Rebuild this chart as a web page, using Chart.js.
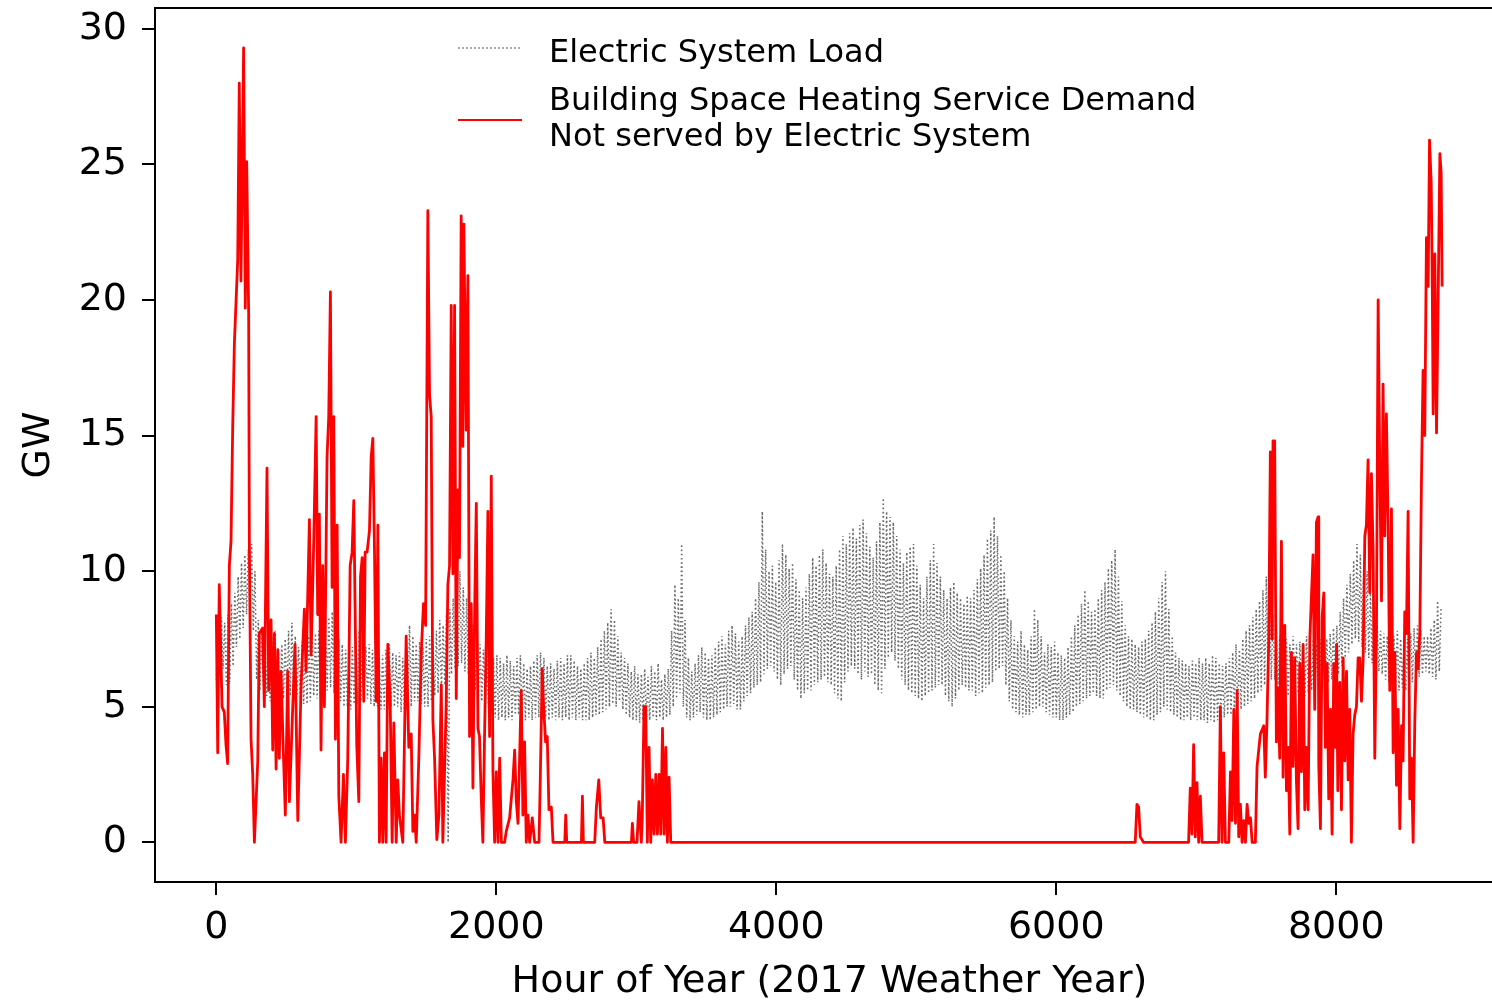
<!DOCTYPE html>
<html>
<head>
<meta charset="utf-8">
<script src="https://cdn.jsdelivr.net/npm/chart.js@4.4.1/dist/chart.umd.min.js"></script>
<style>
  html, body { margin: 0; padding: 0; background: #fff; overflow: hidden; }
  #wrap { position: relative; width: 1492px; height: 1004px; overflow: hidden; }
  #chart { position: absolute; left: 0; top: 0; }
  .lg { position: absolute; font-family: "DejaVu Sans"; font-size: 32px; line-height: 36px; color: #000; white-space: nowrap; }
  .hd { position: absolute; height: 0; }
</style>
</head>
<body>
<div id="wrap">
  <canvas id="chart" width="1510" height="1004"></canvas>
  <div class="hd" style="left:458px; top:47px; width:62px; border-top:2px dotted #aaa;"></div>
  <div class="lg" style="left:549px; top:33px;">Electric System Load</div>
  <div class="hd" style="left:458px; top:119px; width:64px; border-top:2px solid #ff0000;"></div>
  <div class="lg" style="left:549px; top:81px;">Building Space Heating Service Demand<br>Not served by Electric System</div>
</div>
<script>
// Electric system load, one value every 12 hours (night low, day high)
const loadStep = 12;
const loadGW = [
  6.0, 8.0, 6.2, 8.3, 6.4, 8.1,   5.8, 8.4, 5.9, 8.8, 6.5, 9.2,
  7.2, 9.8, 7.5, 10.3, 7.9, 10.6, 8.4, 10.8, 8.6, 11.0, 7.8, 10.0,
  6.0, 8.2, 5.6, 7.9, 5.8, 7.6,   5.4, 7.4, 5.2, 7.6, 5.5, 7.8,
  5.1, 7.0, 5.0, 7.3, 5.3, 7.5,   5.2, 7.8, 5.4, 8.1, 5.2, 7.6,
  5.4, 7.2, 5.3, 7.4, 5.1, 7.0,   5.1, 7.6, 5.2, 7.9, 5.4, 7.7,
  5.3, 7.8, 5.3, 8.0, 5.5, 8.2,   5.6, 8.3, 5.7, 8.5, 5.5, 8.0,
  5.4, 7.5, 5.2, 7.3, 5.0, 7.1,   5.0, 7.0, 4.9, 7.2, 5.1, 7.4,
  5.1, 7.8, 5.2, 7.5, 5.3, 7.2,   5.3, 7.3, 5.1, 7.1, 5.0, 6.9,
  5.0, 6.8, 4.9, 6.9, 4.9, 7.1,   4.9, 7.3, 5.0, 7.0, 5.0, 6.9,
  5.0, 7.0, 4.8, 6.8, 4.8, 7.4,   4.8, 8.0, 5.0, 7.6, 5.2, 7.3,
  5.2, 7.4, 5.1, 7.2, 5.0, 7.5,   5.0, 7.6, 5.2, 7.3, 5.4, 7.8,
  5.5, 8.2, 5.6, 8.0, 5.8, 8.4,   0.0, 8.6, 6.2, 9.0, 6.4, 9.6,
  6.5, 10.0, 6.6, 9.4, 6.3, 9.0,  6.2, 8.5, 5.8, 8.0, 5.6, 7.7,
  5.4, 7.3, 5.2, 7.1, 5.1, 7.0,   5.0, 6.9, 4.8, 6.8, 4.6, 6.9,
  4.5, 6.8, 4.6, 6.6, 4.5, 6.9,   4.6, 6.7, 4.5, 6.5, 4.7, 6.8,
  4.7, 6.9, 4.6, 6.6, 4.5, 6.4,   4.6, 6.5, 4.5, 6.7, 4.6, 6.9,
  4.6, 7.0, 4.5, 6.8, 4.6, 6.5,   4.5, 6.6, 4.6, 6.4, 4.5, 6.7,
  4.6, 6.8, 4.5, 6.6, 4.6, 6.9,   4.5, 6.9, 4.6, 6.7, 4.5, 6.5,
  4.6, 6.4, 4.5, 6.6, 4.5, 6.8,   4.5, 7.0, 4.6, 6.8, 4.7, 7.2,
  4.7, 7.5, 4.8, 7.8, 4.9, 8.1,   5.0, 8.6, 5.1, 8.2, 5.0, 7.6,
  5.2, 7.0, 4.9, 6.8, 4.7, 6.6,   4.6, 6.3, 4.5, 6.5, 4.5, 6.2,
  4.4, 6.2, 4.5, 6.4, 4.6, 6.1,   4.5, 6.5, 4.6, 6.3, 4.5, 6.6,
  4.6, 6.0, 4.5, 6.2, 4.6, 6.4,   4.7, 7.8, 5.0, 9.5, 5.3, 9.0,
  5.5, 11.0, 5.0, 8.2, 4.6, 6.8,  4.5, 6.3, 4.6, 6.6, 4.7, 6.9,
  4.8, 7.2, 4.6, 7.0, 4.5, 6.8,   4.5, 6.9, 4.6, 7.2, 4.7, 7.4,
  4.8, 7.6, 4.9, 7.3, 5.0, 7.8,   5.0, 8.0, 5.1, 7.7, 4.9, 7.4,
  4.9, 7.6, 5.2, 8.0, 5.4, 8.3,   5.5, 8.5, 5.7, 9.0, 5.8, 9.6,
  5.9, 12.2, 6.2, 10.8, 6.4, 10.0, 6.5, 10.2, 6.3, 9.6, 6.0, 10.4,
  5.8, 11.0, 6.2, 10.6, 6.4, 10.1, 6.5, 10.3, 6.0, 9.7, 5.6, 9.3,
  5.3, 9.0, 5.5, 9.4, 5.6, 9.9,   5.6, 10.5, 5.8, 10.2, 5.9, 10.6,
  6.0, 10.8, 6.1, 10.3, 5.9, 9.9, 5.8, 9.8, 5.5, 10.2, 5.3, 10.8,
  5.2, 11.3, 5.9, 11.0, 6.3, 11.4, 6.5, 11.6, 6.4, 11.2, 6.2, 11.7,
  6.0, 11.9, 6.3, 11.4, 6.1, 10.9, 6.2, 10.5, 5.8, 11.1, 5.6, 11.8,
  5.5, 12.7, 6.4, 12.2, 6.8, 12.0, 7.0, 11.8, 6.7, 11.3, 6.4, 10.8,
  6.0, 10.3, 5.8, 10.7, 5.6, 10.9, 5.5, 11.0, 5.4, 10.2, 5.3, 9.5,
  5.2, 9.0, 5.4, 9.8, 5.5, 10.4,  5.6, 11.0, 5.7, 10.3, 5.8, 9.8,
  5.8, 9.3, 5.4, 9.0, 5.2, 9.4,   5.0, 9.6, 5.3, 9.2, 5.6, 9.0,
  5.8, 8.8, 5.7, 9.1, 5.6, 9.0,   5.6, 9.3, 5.4, 9.7, 5.5, 10.1,
  5.5, 10.6, 5.7, 11.2, 5.8, 11.5, 5.9, 12.0, 6.3, 11.3, 6.4, 10.6,
  6.5, 10.0, 5.8, 9.0, 5.2, 8.2,  4.9, 7.6, 4.8, 7.4, 4.7, 7.8,
  4.6, 7.3, 4.7, 7.1, 4.7, 7.6,   4.8, 8.6, 4.9, 8.2, 5.0, 7.6,
  5.0, 7.0, 4.8, 7.3, 4.7, 7.2,   4.6, 7.4, 4.6, 7.0, 4.5, 6.9,
  4.5, 6.8, 4.6, 7.2, 4.7, 7.6,   4.8, 8.0, 5.0, 8.4, 5.1, 8.8,
  5.2, 9.3, 5.3, 8.9, 5.4, 8.5,   5.5, 8.6, 5.4, 9.0, 5.3, 9.3,
  5.3, 9.6, 5.6, 10.1, 5.7, 10.4, 5.8, 10.8, 5.6, 9.8, 5.4, 8.9,
  5.2, 8.0, 5.0, 7.6, 4.9, 7.5,   4.9, 7.3, 4.8, 7.2, 4.7, 7.4,
  4.6, 7.5, 4.6, 7.8, 4.5, 8.1,   4.5, 8.5, 4.7, 9.0, 4.8, 9.6,
  5.0, 10.0, 4.9, 8.6, 4.8, 7.6,  4.7, 7.0, 4.6, 6.8, 4.5, 6.7,
  4.5, 6.6, 4.6, 6.5, 4.5, 6.7,   4.6, 6.6, 4.5, 6.8, 4.5, 6.6,
  4.5, 6.8, 4.4, 6.6, 4.5, 6.9,   4.4, 6.8, 4.5, 6.6, 4.5, 6.5,
  4.6, 6.6, 4.7, 6.8, 4.7, 7.0,   4.8, 7.3, 4.9, 7.1, 4.9, 7.5,
  5.0, 7.8, 5.1, 8.0, 5.2, 8.3,   5.3, 8.6, 5.5, 8.9, 5.6, 9.3,
  5.8, 9.8, 5.9, 9.0, 6.0, 8.4,   6.0, 7.8, 5.8, 7.6, 5.6, 7.5,
  5.5, 7.5, 5.4, 7.3, 5.5, 7.6,   5.6, 7.3, 5.5, 7.4, 5.4, 7.2,
  5.4, 7.6, 5.5, 7.3, 5.6, 7.5,   5.7, 7.3, 5.6, 7.5, 5.7, 7.6,
  5.8, 7.5, 5.9, 7.7, 6.0, 7.9,   6.0, 8.0, 6.2, 8.5, 6.5, 9.0,
  6.8, 9.5, 7.0, 9.9, 7.3, 10.4,  7.5, 11.0, 7.4, 10.6, 7.2, 10.2,
  7.0, 10.0, 6.8, 9.2, 6.6, 8.6,  6.5, 8.0, 6.3, 7.8, 6.2, 7.7,
  6.0, 7.6, 5.9, 7.8, 5.8, 7.6,   5.7, 7.8, 5.6, 7.5, 5.7, 7.4,
  5.6, 7.5, 5.8, 7.7, 5.9, 7.9,   6.0, 8.0, 6.1, 7.8, 6.2, 7.6,
  6.3, 7.6, 6.2, 7.9, 6.1, 8.2,   6.0, 8.9, 6.3, 8.6
];

// Heating demand not served by the electric system (hour, GW)
const heatHours = [
  0, 10, 21, 41, 57, 69, 81, 93, 105, 117, 129, 153, 164, 176, 195, 207, 217, 231, 236, 248,
  260, 272, 296, 307, 331, 343, 362, 374, 391, 403, 415, 427, 439, 450, 462, 479, 493, 510, 522, 546,
  562, 582, 605, 629, 641, 665, 677, 696, 713, 724, 736, 748, 760, 772, 791, 803, 815, 827, 839, 851,
  863, 875, 891, 908, 922, 939, 956, 970, 982, 991, 1003, 1018, 1030, 1042, 1053, 1063, 1077, 1094, 1106, 1118,
  1130, 1142, 1154, 1165, 1177, 1189, 1201, 1213, 1225, 1242, 1256, 1268, 1285, 1296, 1308, 1332, 1356, 1375, 1392, 1404,
  1416, 1428, 1447, 1464, 1480, 1495, 1511, 1523, 1535, 1547, 1559, 1575, 1590, 1607, 1618, 1642, 1654, 1666, 1678, 1690,
  1702, 1714, 1726, 1737, 1749, 1761, 1768, 1785, 1797, 1809, 1821, 1833, 1845, 1857, 1869, 1880, 1892, 1904, 1916, 1928,
  1940, 1952, 1964, 1976, 1988, 2000, 2012, 2024, 2036, 2059, 2071, 2095, 2119, 2131, 2143, 2155, 2178, 2190, 2202, 2214,
  2226, 2238, 2257, 2274, 2305, 2314, 2328, 2338, 2352, 2364, 2376, 2393, 2405, 2489, 2496, 2503, 2608, 2615, 2622, 2703,
  2715, 2732, 2746, 2763, 2775, 2965, 2972, 2981, 3005, 3019, 3036, 3043, 3055, 3067, 3079, 3091, 3103, 3115, 3127, 3139,
  3151, 3163, 3175, 3187, 3199, 3211, 3222, 3234, 3246, 6564, 6576, 6588, 6600, 6623, 6945, 6957, 6969, 6981, 6993, 7005,
  7017, 7029, 7041, 7160, 7172, 7184, 7196, 7208, 7232, 7244, 7256, 7268, 7280, 7292, 7303, 7315, 7327, 7339, 7351, 7363,
  7375, 7387, 7399, 7422, 7434, 7458, 7482, 7493, 7505, 7517, 7529, 7541, 7548, 7560, 7572, 7584, 7596, 7608, 7620, 7632,
  7644, 7656, 7668, 7680, 7691, 7703, 7715, 7727, 7739, 7751, 7763, 7775, 7787, 7799, 7811, 7822, 7834, 7846, 7858, 7870,
  7875, 7887, 7899, 7911, 7922, 7934, 7946, 7958, 7970, 7982, 7994, 8002, 8011, 8025, 8037, 8049, 8061, 8073, 8085, 8096,
  8108, 8120, 8132, 8144, 8156, 8168, 8180, 8192, 8204, 8215, 8227, 8239, 8251, 8263, 8275, 8287, 8299, 8311, 8323, 8334,
  8346, 8358, 8370, 8382, 8394, 8406, 8418, 8430, 8442, 8454, 8466, 8477, 8489, 8501, 8513, 8525, 8537, 8549, 8561, 8573,
  8585, 8597, 8608, 8620, 8632, 8644, 8656, 8666, 8678, 8685, 8692, 8704, 8716, 8728, 8740, 8749, 8756
];
const heatGW = [
  8.4, 3.3, 9.5, 5.0, 4.8, 3.6, 2.9, 10.2, 11.1, 15.3, 18.4, 21.5, 28.0, 20.7, 29.3, 19.7, 25.1, 19.5, 11.1, 3.8,
  2.5, 0, 3.0, 7.7, 7.9, 5.0, 13.8, 5.6, 8.2, 3.4, 7.7, 2.7, 7.1, 3.1, 6.3, 3.3, 1.0, 6.3, 1.5, 5.0,
  7.3, 0.8, 5.7, 8.6, 6.3, 11.9, 6.9, 11.1, 15.7, 8.4, 12.1, 3.4, 10.2, 5.0, 14.2, 15.7, 20.3, 9.4, 15.7, 3.8,
  11.7, 1.7, 0, 2.5, 0, 3.1, 10.2, 10.7, 12.6, 8.8, 3.6, 1.5, 9.8, 10.5, 5.2, 10.7, 10.7, 11.5, 14.2, 14.9,
  10.7, 5.2, 11.7, 0, 3.1, 0, 3.3, 0, 7.3, 5.2, 0, 4.4, 0, 2.3, 1.0, 0, 7.6, 3.5, 4.0, 0.4,
  1.0, 0, 3.2, 7.0, 8.8, 8.0, 23.3, 16.5, 15.7, 4.5, 3.1, 0.1, 1.0, 5.8, 0, 5.1, 9.5, 10.2, 19.8, 9.9,
  19.8, 5.3, 13.0, 10.5, 23.1, 14.6, 22.8, 15.2, 20.9, 3.9, 8.8, 2.0, 8.4, 12.5, 4.2, 3.9, 1.7, 0, 3.9, 7.5,
  12.2, 3.9, 13.5, 2.6, 0, 2.6, 0, 3.1, 0, 0, 0.4, 0.9, 2.3, 3.4, 1.5, 0.7, 5.6, 1.0, 3.7, 0,
  1.0, 0, 0.9, 0, 0, 2.3, 6.4, 5.0, 3.7, 3.9, 1.2, 1.3, 0, 0, 1.0, 0, 0, 1.7, 0, 0,
  1.3, 2.3, 0.9, 0.9, 0, 0, 0.7, 0, 0, 1.5, 0, 1.0, 5.0, 5.0, 0, 3.5, 0, 2.3, 0.3, 2.5,
  0.3, 2.5, 0.3, 4.2, 0.3, 3.5, 0, 2.4, 0, 0, 1.4, 1.3, 0.2, 0, 0, 2.0, 0.3, 3.6, 0.2, 2.2,
  0, 1.7, 0, 0, 5.0, 0, 3.3, 0, 0, 2.6, 0.8, 4.9, 0.7, 5.6, 0.2, 1.4, 0, 0.8, 0, 1.4,
  0.7, 0.9, 0, 0, 2.8, 4.0, 4.3, 2.4, 4.5, 7.3, 14.4, 7.5, 14.8, 14.8, 3.7, 5.7, 3.1, 11.1, 2.4, 8.0,
  1.9, 3.5, 0.3, 7.0, 2.8, 6.8, 2.3, 0.5, 6.6, 2.6, 7.3, 1.2, 3.5, 1.2, 7.5, 9.0, 10.6, 4.9, 11.8, 12.0,
  2.8, 0.5, 8.3, 9.2, 3.5, 6.6, 1.6, 4.9, 0.3, 6.6, 3.5, 7.3, 1.9, 5.9, 1.2, 6.8, 3.0, 6.3, 2.3, 4.9,
  0, 4.0, 4.7, 5.0, 6.8, 6.8, 5.2, 6.8, 11.3, 11.7, 14.1, 9.2, 13.6, 10.8, 3.1, 7.8, 20.0, 13.6, 8.9, 16.9,
  11.3, 15.8, 11.8, 5.6, 12.3, 3.3, 7.0, 2.1, 4.9, 0.5, 4.3, 3.0, 8.5, 7.7, 12.2, 1.6, 3.1, 0, 4.5, 7.0,
  6.4, 7.8, 13.2, 17.4, 15.0, 22.3, 20.5, 25.9, 24.3, 21.0, 15.8, 21.7, 15.1, 20.2, 25.4, 24.7, 20.5
];

const xTicks = [0, 2000, 4000, 6000, 8000];
const yTicks = [0, 5, 10, 15, 20, 25, 30];

const loadPoints = loadGW.map((v, i) => ({ x: i * loadStep, y: v }));
const heatPoints = heatHours.map((h, i) => ({ x: h, y: heatGW[i] }));

const tickFont = { family: "DejaVu Sans", size: 38 };

// matplotlib style top spine
const topSpine = {
  id: "topSpine",
  afterDraw(chart) {
    const { ctx, chartArea } = chart;
    ctx.save();
    ctx.strokeStyle = "#000";
    ctx.lineWidth = 2;
    ctx.beginPath();
    ctx.moveTo(chartArea.left, chartArea.top);
    ctx.lineTo(chartArea.right, chartArea.top);
    ctx.stroke();
    ctx.restore();
  }
};

new Chart(document.getElementById("chart"), {
  type: "line",
  data: {
    datasets: [
      {
        label: "Building Space Heating Service Demand Not served by Electric System",
        data: heatPoints,
        borderColor: "#ff0000",
        borderWidth: 2.8,
        pointRadius: 0,
        tension: 0,
        borderJoinStyle: "round",
        order: 1
      },
      {
        label: "Electric System Load",
        data: loadPoints,
        borderColor: "rgba(80, 80, 80, 0.85)",
        borderWidth: 1.5,
        borderDash: [1.6, 2.6],
        pointRadius: 0,
        tension: 0,
        order: 2
      }
    ]
  },
  options: {
    responsive: false,
    animation: false,
    devicePixelRatio: 1,
    layout: { padding: { top: 8, right: 6, left: 0, bottom: 0 } },
    plugins: { legend: { display: false }, tooltip: { enabled: false } },
    scales: {
      x: {
        type: "linear",
        min: -438,
        max: 9198,
        afterBuildTicks: s => { s.ticks = xTicks.map(v => ({ value: v })); },
        afterFit: s => { s.height = 122; s.paddingLeft = 0; s.paddingRight = 0; },
        grid: { drawOnChartArea: false, drawTicks: true, tickLength: 13, color: "#000", lineWidth: 2 },
        border: { color: "#000", width: 2 },
        ticks: { color: "#000", font: tickFont, padding: 10, maxRotation: 0, autoSkip: false, callback: v => String(v) },
        title: {
          display: true,
          text: "Hour of Year (2017 Weather Year)",
          color: "#000",
          font: { family: "DejaVu Sans", size: 38, lineHeight: 1 },
          padding: { top: 0, bottom: 3 }
        }
      },
      y: {
        min: -1.465,
        max: 30.77,
        afterBuildTicks: s => { s.ticks = yTicks.map(v => ({ value: v })); },
        afterFit: s => { s.width = 155; s.paddingTop = 0; s.paddingBottom = 0; },
        grid: { drawOnChartArea: false, drawTicks: true, tickLength: 13, color: "#000", lineWidth: 2 },
        border: { color: "#000", width: 2 },
        ticks: { color: "#000", font: tickFont, padding: 15, callback: v => String(v) },
        title: {
          display: true,
          text: "GW",
          color: "#000",
          font: { family: "DejaVu Sans", size: 38, lineHeight: 1 },
          padding: { top: 20, bottom: 0 }
        }
      }
    }
  },
  plugins: [topSpine]
});
</script>
</body>
</html>
